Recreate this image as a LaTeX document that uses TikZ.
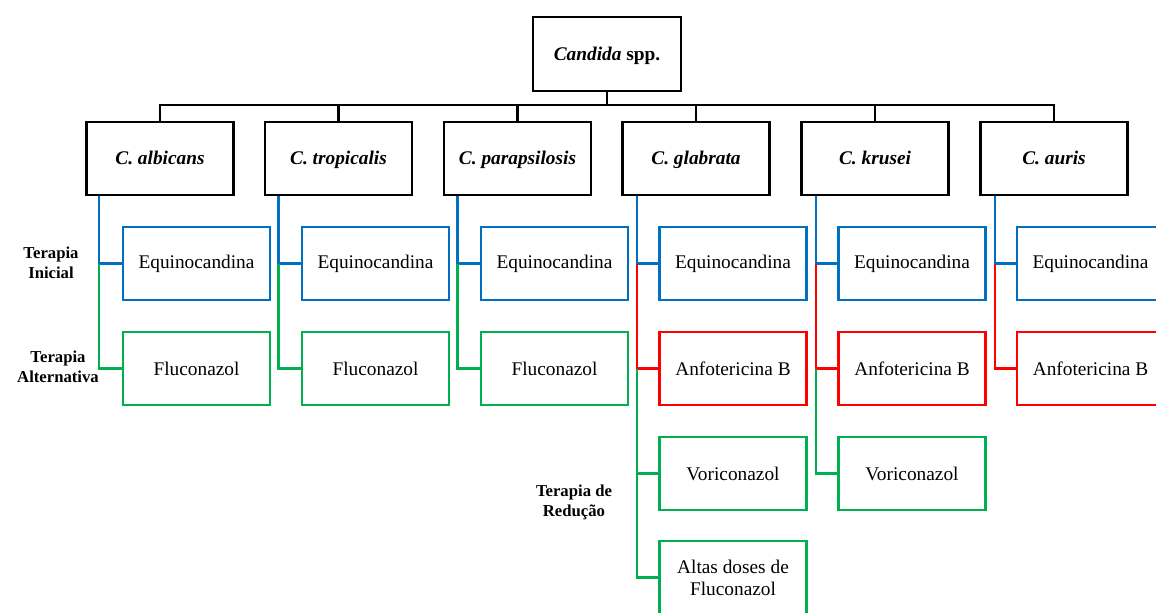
\documentclass[tikz,border=0pt]{standalone}
\usepackage{fontspec}
\setmainfont{Liberation Serif}
\usepackage{tikz}
\usetikzlibrary{shadows}

\definecolor{azul}{HTML}{0070C0}
\definecolor{verde}{HTML}{00B050}
\definecolor{vermelho}{HTML}{FF0000}

\tikzset{
  sombra/.style={drop shadow={opacity=0.25, shadow xshift=0.7pt, shadow yshift=-0.7pt}},
  spbox/.style={draw=black, line width=1.6pt, fill=white, sombra,
    minimum width=2.94cm, minimum height=1.46cm,
    text height=1.8ex, text depth=0.3ex,
    font=\fontsize{11}{13}\selectfont\bfseries\itshape},
  drugbox/.style={line width=1.3pt, fill=white, sombra,
    minimum width=2.94cm, minimum height=1.46cm, align=center,
    font=\fontsize{11}{12.5}\selectfont},
  tlabel/.style={align=center, font=\fontsize{9.5}{11.3}\selectfont\bfseries},
  busline/.style={draw=black, line width=1.3pt},
  linha/.style={line width=1.4pt}
}

\begin{document}
\begin{tikzpicture}[x=0.02cm, y=-0.02cm]
\useasboundingbox (0,0) rectangle (1156,612);

% topo
\node[spbox, font=\fontsize{11}{13}\selectfont\bfseries, minimum width=2.96cm, minimum height=1.48cm] (cand) at (607,54) {\textit{Candida} spp.};

% especies
\node[spbox] (alb) at (160,158.5) {C. albicans};
\node[spbox] (trop) at (338.5,158.5) {C. tropicalis};
\node[spbox] (para) at (517.5,158.5) {C. parapsilosis};
\node[spbox] (glab) at (696,158.5) {C. glabrata};
\node[spbox] (krus) at (875,158.5) {C. krusei};
\node[spbox] (aur) at (1054,158.5) {C. auris};

\coordinate (bus) at (607,105);
\draw[busline] (cand.south) -- (bus);
\draw[busline] (alb.north) |- (bus) -| (aur.north);
\draw[busline] (trop.north) -- (trop.north |- bus);
\draw[busline] (para.north) -- (para.north |- bus);
\draw[busline] (glab.north) -- (glab.north |- bus);
\draw[busline] (krus.north) -- (krus.north |- bus);

% terapia inicial
\node[drugbox, draw=azul] (albEq) at (196.5,263.5) {Equinocandina};
\node[drugbox, draw=azul] (tropEq) at (375.5,263.5) {Equinocandina};
\node[drugbox, draw=azul] (paraEq) at (554.5,263.5) {Equinocandina};
\node[drugbox, draw=azul] (glabEq) at (733,263.5) {Equinocandina};
\node[drugbox, draw=azul] (krusEq) at (912,263.5) {Equinocandina};
\node[drugbox, draw=azul] (aurEq) at (1090.5,263.5) {Equinocandina};

% terapia alternativa
\node[drugbox, draw=verde] (albFl) at (196.5,368.5) {Fluconazol};
\node[drugbox, draw=verde] (tropFl) at (375.5,368.5) {Fluconazol};
\node[drugbox, draw=verde] (paraFl) at (554.5,368.5) {Fluconazol};
\node[drugbox, draw=vermelho] (glabAnf) at (733,368.5) {Anfotericina B};
\node[drugbox, draw=vermelho] (krusAnf) at (912,368.5) {Anfotericina B};
\node[drugbox, draw=vermelho] (aurAnf) at (1090.5,368.5) {Anfotericina B};

% terapia de reducao
\node[drugbox, draw=verde] (glabVor) at (733,473.5) {Voriconazol};
\node[drugbox, draw=verde] (krusVor) at (912,473.5) {Voriconazol};
\node[drugbox, draw=verde] (glabAlt) at (733,577.5) {Altas doses de\\Fluconazol};

% ligacoes
\draw[linha, azul] (alb.south west) ++(14,0) coordinate (albX) |- (albEq.west);
\draw[linha, verde] (albX |- albEq.west) |- (albFl.west);
\draw[linha, azul] (trop.south west) ++(15,0) coordinate (tropX) |- (tropEq.west);
\draw[linha, verde] (tropX |- tropEq.west) |- (tropFl.west);
\draw[linha, azul] (para.south west) ++(15,0) coordinate (paraX) |- (paraEq.west);
\draw[linha, verde] (paraX |- paraEq.west) |- (paraFl.west);
\draw[linha, azul] (glab.south west) ++(16,0) coordinate (glabX) |- (glabEq.west);
\draw[linha, vermelho] (glabX |- glabEq.west) |- (glabAnf.west);
\draw[linha, verde] (glabX |- glabAnf.west) |- (glabVor.west);
\draw[linha, verde] (glabX |- glabVor.west) |- (glabAlt.west);
\draw[linha, azul] (krus.south west) ++(16,0) coordinate (krusX) |- (krusEq.west);
\draw[linha, vermelho] (krusX |- krusEq.west) |- (krusAnf.west);
\draw[linha, verde] (krusX |- krusAnf.west) |- (krusVor.west);
\draw[linha, azul] (aur.south west) ++(16,0) coordinate (aurX) |- (aurEq.west);
\draw[linha, vermelho] (aurX |- aurEq.west) |- (aurAnf.west);

% rotulos
\node[tlabel] (ini) at (51,263) {Terapia\\Inicial};
\node[tlabel] (alt) at (58,367) {Terapia\\Alternativa};
\node[tlabel] (red) at (574,502) {Terapia de\\Redução};

\end{tikzpicture}
\end{document}
